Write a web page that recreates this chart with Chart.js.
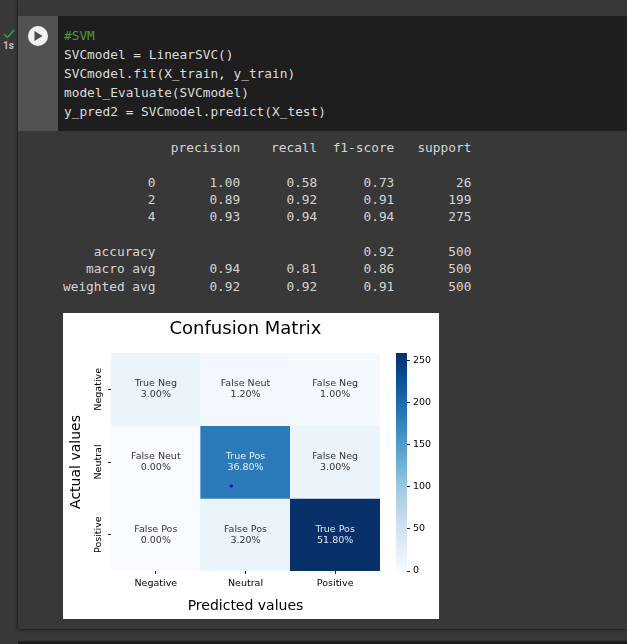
<!DOCTYPE html>
<html>
<head>
<meta charset="utf-8">
<script src="https://cdn.jsdelivr.net/npm/chart.js@4"></script>
<style>
    html, body { margin: 0; padding: 0; width: 627px; height: 644px; overflow: hidden; background: #383838; }
    div, pre, canvas, svg { position: absolute; }
    pre { margin: 0; font-family: "DejaVu Sans Mono", monospace; font-size: 12.8px; color: #d5d5d5; }
    #output-card { left: 18px; top: 0; width: 609px; height: 629px; background: #383838; box-shadow: 0 1px 3px rgba(0,0,0,0.45), -1px 0 2px rgba(0,0,0,0.25); }
    #next-cell { left: 18px; top: 641px; width: 609px; height: 3px; background: #1e1e1e; }
    #code-cell { left: 58px; top: 16px; width: 569px; height: 115px; background: #1e1e1e; }
    #run-col { left: 18px; top: 16px; width: 40px; height: 115px; background: #525252; }
    #run-btn { left: 28px; top: 26px; width: 20px; height: 20px; border-radius: 50%; background: #f2f2f2; }
    #run-time { left: 3px; top: 40px; font: bold 10px "Roboto", sans-serif; color: #bdbdbd; }
    #code { left: 64px; top: 26px; line-height: 19px; color: #dcdcdc; }
    #code .c { color: #4e9a3c; }
    #report { left: 63px; top: 139px; line-height: 17.35px; }
    #figure { left: 63px; top: 313px; width: 376px; height: 306px; background: #fff; }
</style>
</head>
<body>
<div id="output-card"></div>
<div id="next-cell"></div>
<div id="run-col"></div>
<div id="code-cell"></div>
<div id="run-btn"></div>
<svg style="left:33px;top:30px" width="11" height="12"><path d="M1.5 1 L9.5 6 L1.5 11 Z" fill="#4d4d4d"/></svg>
<svg style="left:3px;top:29px" width="12" height="10"><path d="M1 5 L4.5 8.5 L11 1" fill="none" stroke="#2fa84f" stroke-width="1.4"/></svg>
<div id="run-time">1s</div>
<pre id="code"><span class="c">#SVM</span>
SVCmodel = LinearSVC()
SVCmodel.fit(X_train, y_train)
model_Evaluate(SVCmodel)
y_pred2 = SVCmodel.predict(X_test)</pre>
<pre id="report">              precision    recall  f1-score   support

           0       1.00      0.58      0.73        26
           2       0.89      0.92      0.91       199
           4       0.93      0.94      0.94       275

    accuracy                           0.92       500
   macro avg       0.94      0.81      0.86       500
weighted avg       0.92      0.92      0.91       500</pre>
<div id="figure"></div>
<canvas id="matrix" style="left:63px;top:313px;width:364px;height:306px"></canvas>
<canvas id="colorbar" style="left:380px;top:313px;width:59px;height:306px"></canvas>

<script>
// 混同行列 (LinearSVC)
const predictedLabels = ['Negative', 'Neutral', 'Positive'];
const actualLabels    = ['Negative', 'Neutral', 'Positive'];
const rowNegative = [15, 6, 5];
const rowNeutral  = [0, 184, 15];
const rowPositive = [0, 16, 259];
const namesNegative = ['True Neg', 'False Neut', 'False Neg'];
const namesNeutral  = ['False Neut', 'True Pos', 'False Neg'];
const namesPositive = ['False Pos', 'False Pos', 'True Pos'];
const percNegative = ['3.00%', '1.20%', '1.00%'];
const percNeutral  = ['0.00%', '36.80%', '3.00%'];
const percPositive = ['0.00%', '3.20%', '51.80%'];
const colorbarTicks = [0, 50, 100, 150, 200, 250];
const maxCount = 259;
// 画面に写り込んだカーソルの青い点 (x: 列, y: 行)
const cursorDot = [{ x: 1.316, y: 1.83 }];

const blues = ['#f7fbff', '#deebf7', '#c6dbef', '#9ecae1', '#6baed6', '#4292c6', '#2171b5', '#08519c', '#08306b'];
const FONT = '"DejaVu Sans", sans-serif';

const blueFor = (count) => {
    const t = Math.min(count / maxCount, 1) * (blues.length - 1);
    const i = Math.min(Math.floor(t), blues.length - 2);
    const f = t - i;
    const rgb = (hex) => [1, 3, 5].map(p => parseInt(hex.substring(p, p + 2), 16));
    const a = rgb(blues[i]), b = rgb(blues[i + 1]);
    return `rgb(${a.map((v, k) => Math.round(v + (b[k] - v) * f)).join(',')})`;
};

const rows  = [rowNegative, rowNeutral, rowPositive];
const names = [namesNegative, namesNeutral, namesPositive];
const percs = [percNegative, percNeutral, percPositive];

const rowDatasets = rows.map((row, r) => ({
    label: actualLabels[r],
    data: row.map(() => [r, r + 1]),
    backgroundColor: row.map(blueFor),
    borderWidth: 0,
    barPercentage: 1,
    categoryPercentage: 1,
    grouped: false,
    order: 2
}));

// セル内の文字
const cellText = {
    id: 'cellText',
    afterDatasetsDraw(chart) {
        const { ctx, scales } = chart;
        ctx.save();
        ctx.font = `9.5px ${FONT}`;
        ctx.textAlign = 'center';
        ctx.textBaseline = 'middle';
        rows.forEach((row, r) => row.forEach((count, c) => {
            const x = scales.x.getPixelForValue(c);
            const y = scales.y.getPixelForValue(r + 0.5);
            ctx.fillStyle = count > maxCount / 2 ? 'rgba(255,255,255,0.88)' : '#333333';
            ctx.fillText(names[r][c], x, y - 5.5);
            ctx.fillText(percs[r][c], x, y + 5.5);
        }));
        ctx.restore();
    }
};

const tickGrid = { display: true, drawOnChartArea: false, drawTicks: true, tickLength: 3, tickColor: '#262626' };

new Chart(document.getElementById('matrix'), {
    type: 'bar',
    data: {
        labels: predictedLabels,
        datasets: [
            ...rowDatasets,
            {
                type: 'scatter',
                label: 'cursor',
                data: cursorDot,
                xAxisID: 'xDot',
                backgroundColor: '#0000ff',
                borderWidth: 0,
                pointRadius: 1.6,
                order: 1
            }
        ]
    },
    plugins: [cellText],
    options: {
        responsive: false,
        animation: false,
        layout: { padding: { right: 47 } },
        plugins: {
            legend: { display: false },
            tooltip: { enabled: false },
            title: {
                display: true,
                fullSize: false,
                text: 'Confusion Matrix',
                color: '#000',
                font: { family: FONT, size: 18, weight: 'normal' },
                padding: { top: 6, bottom: 12.4 }
            }
        },
        scales: {
            x: {
                grid: { ...tickGrid, offset: false },
                border: { display: false },
                afterFit: (scale) => { scale.height = 48; },
                ticks: { color: '#000', font: { family: FONT, size: 9.5 }, padding: 4, maxRotation: 0 },
                title: { display: true, text: 'Predicted values', color: '#000', font: { family: FONT, size: 14 }, padding: { top: 6, bottom: 4 } }
            },
            xDot: { type: 'linear', display: false, min: 0, max: 3 },
            y: {
                type: 'linear',
                reverse: true,
                min: 0,
                max: 3,
                grid: tickGrid,
                border: { display: false },
                afterBuildTicks: (scale) => { scale.ticks = actualLabels.map((_, r) => ({ value: r + 0.5 })); },
                afterFit: (scale) => { scale.width = 48; },
                ticks: {
                    color: '#000',
                    font: { family: FONT, size: 9.5 },
                    minRotation: 90,
                    maxRotation: 90,
                    crossAlign: 'center',
                    padding: -12,
                    callback: (value) => actualLabels[Math.floor(value)]
                },
                title: { display: true, text: 'Actual values', color: '#000', font: { family: FONT, size: 14 }, padding: { top: 5, bottom: 2 } }
            }
        }
    }
});

// カラーバー
new Chart(document.getElementById('colorbar'), {
    type: 'bar',
    data: {
        labels: [''],
        datasets: [{
            data: [[0, maxCount]],
            barPercentage: 1,
            categoryPercentage: 1,
            borderWidth: 0,
            backgroundColor: (context) => {
                const { ctx, chartArea } = context.chart;
                if (!chartArea) return blues[0];
                const g = ctx.createLinearGradient(0, chartArea.bottom, 0, chartArea.top);
                blues.forEach((c, i) => g.addColorStop(i / (blues.length - 1), c));
                return g;
            }
        }]
    },
    options: {
        responsive: false,
        animation: false,
        layout: { padding: { left: 16, top: 40, bottom: 48 } },
        plugins: { legend: { display: false }, tooltip: { enabled: false } },
        scales: {
            x: { display: false },
            y: {
                position: 'right',
                min: 0,
                max: maxCount,
                grid: tickGrid,
                border: { display: false },
                afterBuildTicks: (scale) => { scale.ticks = colorbarTicks.map(v => ({ value: v })); },
                afterFit: (scale) => { scale.width = 32; },
                ticks: { color: '#000', font: { family: FONT, size: 9.5 }, padding: 3 }
            }
        }
    }
});
</script>
</body>
</html>
